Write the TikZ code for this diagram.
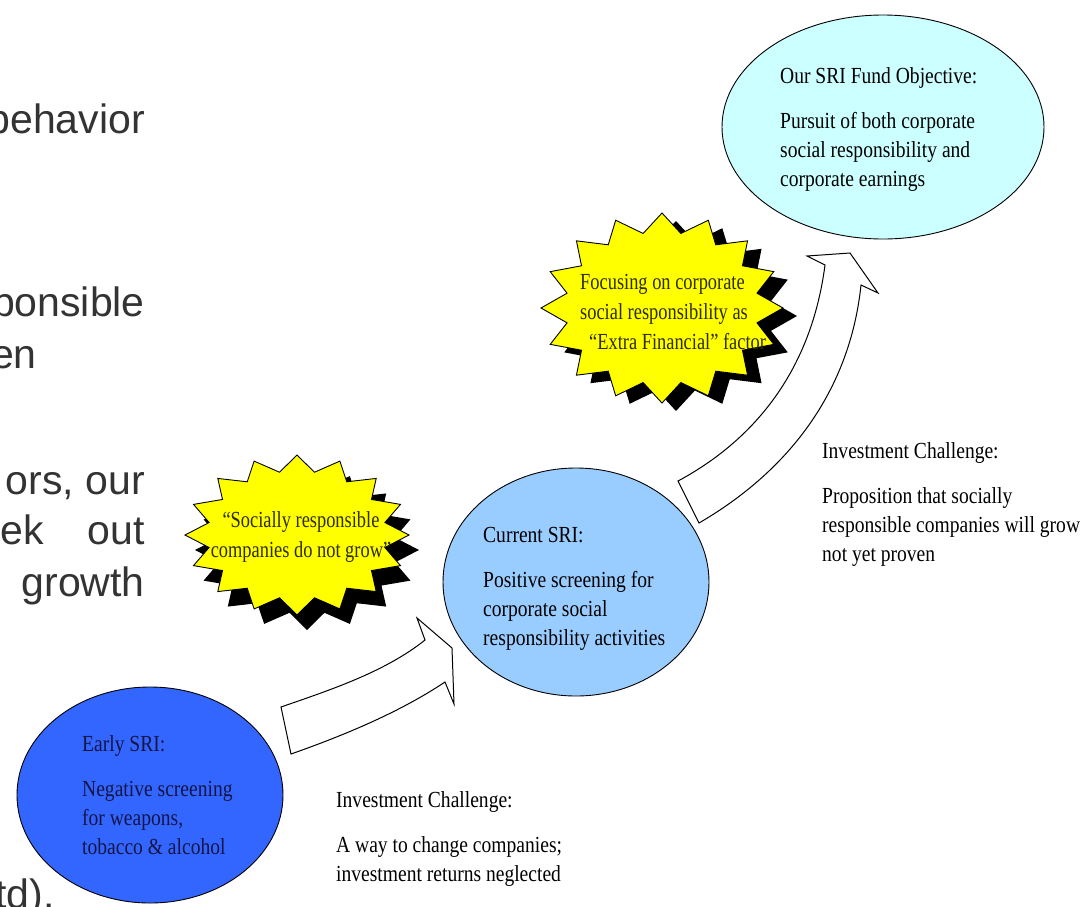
\documentclass[tikz,border=0pt]{standalone}
\usepackage{fontspec}
\setmainfont{Liberation Serif}
\newfontfamily\condfont[FakeStretch=0.85]{Liberation Serif}
\newfontfamily\starfont[FakeStretch=0.8]{Liberation Serif}
\newfontfamily\arialfont{Liberation Sans}
\usetikzlibrary{shapes.geometric}
\definecolor{earlyblue}{RGB}{51,102,255}
\definecolor{curblue}{RGB}{153,204,255}
\definecolor{objcyan}{RGB}{204,255,255}
\definecolor{staryellow}{RGB}{255,255,0}
\definecolor{navytext}{RGB}{20,20,70}
\definecolor{olivetext}{RGB}{45,45,0}
\definecolor{bgtext}{RGB}{51,51,51}
\newcommand{\burstshape}[4]{plot[samples at={0,1,...,31}, variable=\k] ({#1+#3*(1-0.2*mod(\k,2))*cos(\k*11.25)}, {#2+#4*(1-0.2*mod(\k,2))*sin(\k*11.25)}) -- cycle}
\begin{document}
\begin{tikzpicture}[x=1pt,y=-1pt,
 oval/.style={ellipse, draw=black, line width=0.9pt, inner sep=0pt},
 txt/.style={font=\condfont\fontsize{23}{29}\selectfont, align=left, inner sep=0pt, anchor=north west},
 startxt/.style={font=\starfont\fontsize{23}{30}\selectfont, inner sep=0pt, text=olivetext},
 bigtxt/.style={font=\arialfont\fontsize{41}{47}\selectfont, text=bgtext, inner sep=0pt, anchor=base east},
 blockarrow/.style={draw=black, fill=white, line width=1pt, line join=miter},
 burst/.style={draw=black, fill=staryellow, line width=0.9pt},
 burstshadow/.style={fill=black}
]
\clip (0,0) rectangle (1084,906);
\fill[white] (0,0) rectangle (1084,906);

% left background text fragments
\node[bigtxt] (l1) at (145,133) {behavior};
\node[bigtxt] (l2) at (145,316) {ponsible};
\node[bigtxt] (l3) at (37,368) {en};
\node[bigtxt] (l4) at (145,494) {ors, our};
\node[bigtxt] (l5a) at (44,544) {ek};
\node[bigtxt] (l5b) at (145,544) {out};
\node[bigtxt] (l6) at (145,596) {growth};
\node[bigtxt] (l7) at (55,908) {td).};

% ellipses
\node[oval, fill=earlyblue, minimum width=266pt, minimum height=216pt] (early) at (150,795) {};
\node[oval, fill=curblue, minimum width=266pt, minimum height=228pt] (current) at (576,582) {};
\node[oval, fill=objcyan, minimum width=322pt, minimum height=224pt] (objective) at (883,127) {};

% block arrows
\draw[blockarrow] (281,707) .. controls (330,690) and (385,672) .. (425,640) -- (417,618) -- (452,648) -- (454,704) -- (445,682) .. controls (400,712) and (345,735) .. (291,754) -- cycle;
\draw[blockarrow] (678,481) .. controls (745,445) and (810,380) .. (825,265) -- (807,256) -- (850,253) -- (878,293) -- (861,285) .. controls (850,390) and (790,470) .. (699,523) -- cycle;

% starbursts
\fill[burstshadow] \burstshape{307}{550}{112}{80};
\draw[burst] \burstshape{297}{535}{112}{80};
\node[startxt, align=center, anchor=north] (s1text) at (301,511) {“Socially responsible\\companies do not grow”};

\fill[burstshadow] \burstshape{676}{316}{121}{95};
\draw[burst] \burstshape{662}{308}{121}{95};
\node[startxt, align=left, anchor=north west] (s2text) at (580,274) {Focusing on corporate\\social responsibility as\\\hspace*{9pt}“Extra Financial” factor};

% texts
\node[txt, text=navytext] (earlytext) at (82,735) {Early SRI:\\[16pt]Negative screening\\for weapons,\\tobacco \& alcohol};
\node[txt] (currenttext) at (483,527) {Current SRI:\\[16pt]Positive screening for\\corporate social\\responsibility activities};
\node[txt] (objtext) at (780,67) {Our SRI Fund Objective:\\[16pt]Pursuit of both corporate\\social responsibility and\\corporate earnings};
\node[txt] (chal1) at (336,791) {Investment Challenge:\\[16pt]A way to change companies;\\investment returns neglected};
\node[txt] (chal2) at (822,442) {Investment Challenge:\\[16pt]Proposition that socially\\responsible companies will grow\\not yet proven};
\end{tikzpicture}
\end{document}
